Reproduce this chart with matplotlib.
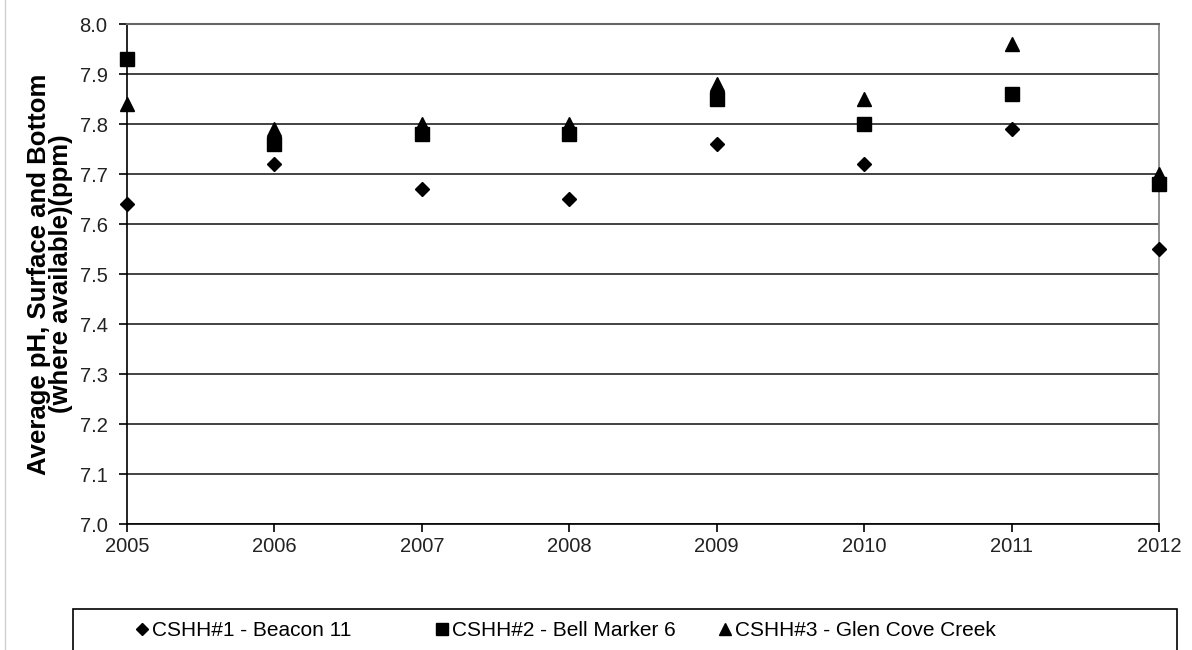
import matplotlib
matplotlib.use("Agg")
import matplotlib.pyplot as plt
from matplotlib.patches import Rectangle
from matplotlib.lines import Line2D

plt.rcParams['font.family'] = ['Liberation Sans', 'DejaVu Sans']

years = [2005, 2006, 2007, 2008, 2009, 2010, 2011, 2012]
beacon11 = [7.64, 7.72, 7.67, 7.65, 7.76, 7.72, 7.79, 7.55]
bell_marker6 = [7.93, 7.76, 7.78, 7.78, 7.85, 7.80, 7.86, 7.68]
glen_cove = [7.84, 7.79, 7.80, 7.80, 7.88, 7.85, 7.96, 7.70]
series_labels = ["CSHH#1 - Beacon 11", "CSHH#2 - Bell Marker 6", "CSHH#3 - Glen Cove Creek"]
yticks = [7.0, 7.1, 7.2, 7.3, 7.4, 7.5, 7.6, 7.7, 7.8, 7.9, 8.0]
ylabel = "Average pH, Surface and Bottom\n(where available)(ppm)"

W, H = 1192, 650
fig = plt.figure(figsize=(W / 100, H / 100), dpi=100)
ax = fig.add_axes([127 / W, 1 - 524 / H, (1159 - 127) / W, (524 - 24) / H])

ax.plot(years, beacon11, linestyle='none', marker='D', ms=7, color='black', label=series_labels[0], clip_on=False, zorder=5)
ax.plot(years, bell_marker6, linestyle='none', marker='s', ms=9.5, color='black', label=series_labels[1], clip_on=False, zorder=5)
ax.plot(years, glen_cove, linestyle='none', marker='^', ms=10, color='black', label=series_labels[2], clip_on=False, zorder=5)

ax.set_xlim(2005, 2012)
ax.set_ylim(7.0, 8.0)
ax.set_xticks(years)
ax.set_xticklabels([str(y) for y in years])
ax.set_yticks(yticks)
ax.set_yticklabels([f"{v:.1f}" for v in yticks])
ax.tick_params(axis='both', labelsize=14.5, direction='out', length=6, width=1.2, colors='black', labelcolor='#222222')
ax.tick_params(axis='x', pad=3)
ax.tick_params(axis='y', pad=8)
ax.yaxis.grid(True, color='#222222', linewidth=1.2)
ax.set_axisbelow(True)
for s in ['left', 'bottom']:
    ax.spines[s].set_color('black')
    ax.spines[s].set_linewidth(1.2)
ax.spines['right'].set_color('#808080')
ax.spines['right'].set_linewidth(1.2)
ax.spines['top'].set_color('#666666')
ax.spines['top'].set_linewidth(1.5)

ax.set_ylabel(ylabel, fontsize=18.5, fontweight='bold', linespacing=0.85, labelpad=5)

# legend box
fig.patches.append(Rectangle((73 / W, -0.05), (1177 - 73) / W, (1 - 609 / H) + 0.05,
                             transform=fig.transFigure, fill=False, edgecolor='black', linewidth=1.2))
handles = [Line2D([], [], linestyle='none', marker='D', ms=6, color='black'),
           Line2D([], [], linestyle='none', marker='s', ms=8, color='black'),
           Line2D([], [], linestyle='none', marker='^', ms=8, color='black')]
anchors_px = [136, 436, 719]
for h, lab, xa in zip(handles, series_labels, anchors_px):
    leg = fig.legend([h], [lab], loc='center left', bbox_to_anchor=(xa / W, 1 - 631 / H),
                     frameon=False, fontsize=15, handlelength=0.6, handletextpad=0.15,
                     borderpad=0, borderaxespad=0)

# chart area left border
fig.add_artist(Line2D([5 / W, 5 / W], [0, 1], transform=fig.transFigure, color='#d0d0d0', linewidth=1))

fig.savefig("out.png", dpi=100)
